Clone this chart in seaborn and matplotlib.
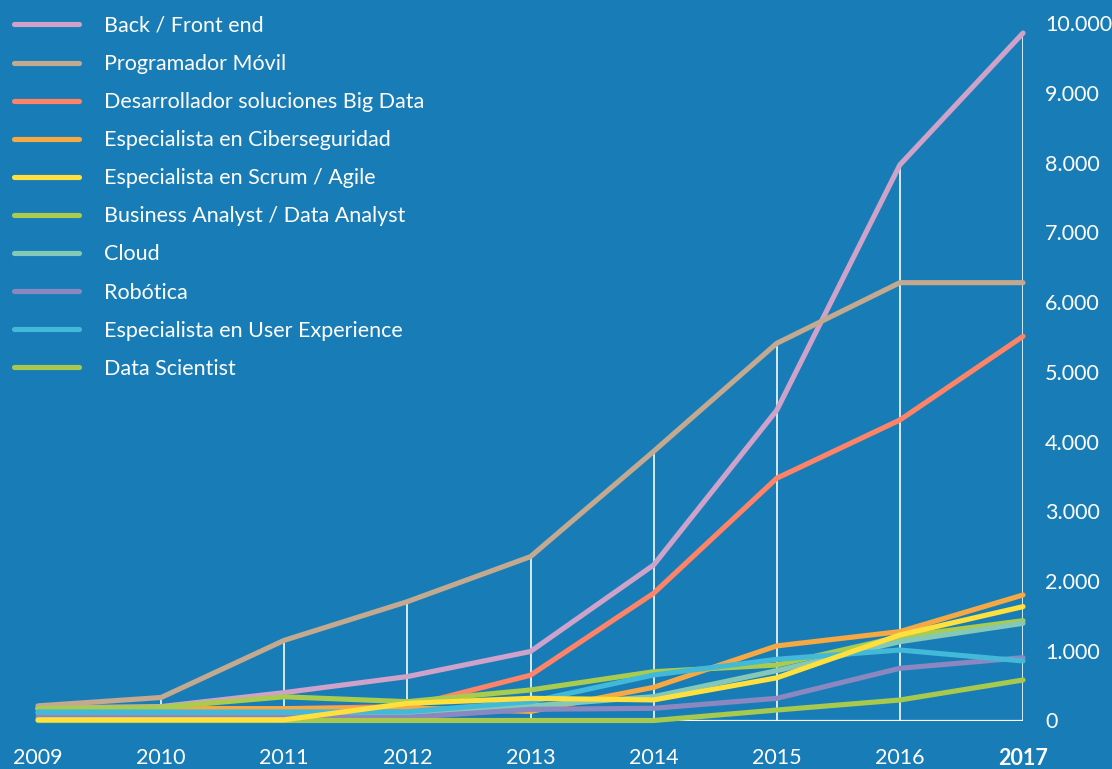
import matplotlib
matplotlib.use("Agg")
import matplotlib.pyplot as plt
import pandas as pd
import seaborn as sns
from matplotlib.ticker import FuncFormatter

# Job offers per profile, 2009-2017
years = [2009, 2010, 2011, 2012, 2013, 2014, 2015, 2016, 2017]

back_front = [180, 200, 400, 630, 990, 2230, 4450, 7970, 9860]
movil = [210, 330, 1150, 1705, 2350, 3860, 5410, 6280, 6280]
big_data = [170, 170, 170, 200, 650, 1825, 3475, 4310, 5510]
ciberseguridad = [170, 170, 170, 180, 130, 476, 1070, 1275, 1800]
scrum_agile = [10, 10, 10, 246, 318, 295, 612, 1227, 1633]
business_analyst = [170, 190, 340, 270, 438, 700, 796, 1200, 1432]
cloud = [110, 110, 110, 110, 208, 342, 715, 1131, 1394]
robotica = [50, 50, 50, 45, 160, 175, 318, 749, 901]
user_experience = [122, 122, 122, 126, 270, 653, 878, 1011, 854]
data_scientist = [0, 0, 0, 0, 0, 0, 150, 294, 581]

series_names = [
    "Back / Front end",
    "Programador Móvil",
    "Desarrollador soluciones Big Data",
    "Especialista en Ciberseguridad",
    "Especialista en Scrum / Agile",
    "Business Analyst / Data Analyst",
    "Cloud",
    "Robótica",
    "Especialista en User Experience",
    "Data Scientist",
]
series_values = [
    back_front, movil, big_data, ciberseguridad, scrum_agile,
    business_analyst, cloud, robotica, user_experience, data_scientist,
]
series_colors = [
    "#CFA2C9", "#C3A98F", "#FF8467", "#F6A842", "#FFE03C",
    "#A9CB4E", "#84C8B8", "#8B87C0", "#42B9D8", "#A7C94E",
]

BG = "#187DB6"
DROP = "#D4EAF4"
FS = 15.5

df = pd.DataFrame(
    [(name, y, v) for name, vals in zip(series_names, series_values)
     for y, v in zip(years, vals)],
    columns=["perfil", "year", "ofertas"],
)

sns.set_theme(style="white")
plt.rcParams["font.family"] = ["Lato", "DejaVu Sans"]

W, H = 1112, 769
fig = plt.figure(figsize=(W / 100, H / 100), dpi=100, facecolor=BG)
ax = fig.add_axes([38 / W, (H - 720.5) / H, (1023 - 38) / W, (720.5 - 23.3) / H])
ax.set_facecolor(BG)

# drop lines from the highest value of each year, plus the baseline
peak = df.groupby("year")["ofertas"].max()
ax.vlines(peak.index, 0, peak.values, colors=DROP, linewidth=1.4, zorder=1)
ax.hlines(0, years[0], years[-1], colors="white", linewidth=1.6, zorder=1)

for i, (name, color) in enumerate(zip(series_names, series_colors)):
    sub = df[df["perfil"] == name]
    z = 6 if name == "Especialista en Scrum / Agile" else 3 + i * 0.1
    sns.lineplot(
        data=sub, x="year", y="ofertas", color=color, label=name,
        linewidth=3.7, solid_capstyle="round", clip_on=False,
        errorbar=None, ax=ax, zorder=z,
    )

ax.set_xlim(years[0], years[-1])
ax.set_ylim(0, 10000)
ax.set_xlabel("")
ax.set_ylabel("")
for s in ax.spines.values():
    s.set_visible(False)
ax.grid(False)

ax.yaxis.tick_right()
ax.set_yticks(range(0, 10001, 1000))
ax.yaxis.set_major_formatter(FuncFormatter(lambda v, _: f"{int(v):,}".replace(",", ".")))
ax.set_xticks(years)
ax.set_xticklabels([str(y) for y in years])
ax.tick_params(axis="y", length=0, pad=16, labelsize=FS, labelcolor="white")
ax.tick_params(axis="x", length=0, pad=20, labelsize=FS, labelcolor="white")
ax.get_xticklabels()[-1].set_fontweight("bold")

handles, labels = ax.get_legend_handles_labels()
leg = ax.legend(
    handles, labels, loc="upper left",
    bbox_to_anchor=(14 / W, 1 - 16 / H), bbox_transform=fig.transFigure,
    frameon=False, fontsize=FS, handlelength=3.0, handletextpad=1.2,
    labelspacing=0.84, borderpad=0, borderaxespad=0, labelcolor="white",
)
for h in leg.get_lines():
    h.set_solid_capstyle("round")

fig.savefig("out.png", dpi=100, facecolor=BG)
